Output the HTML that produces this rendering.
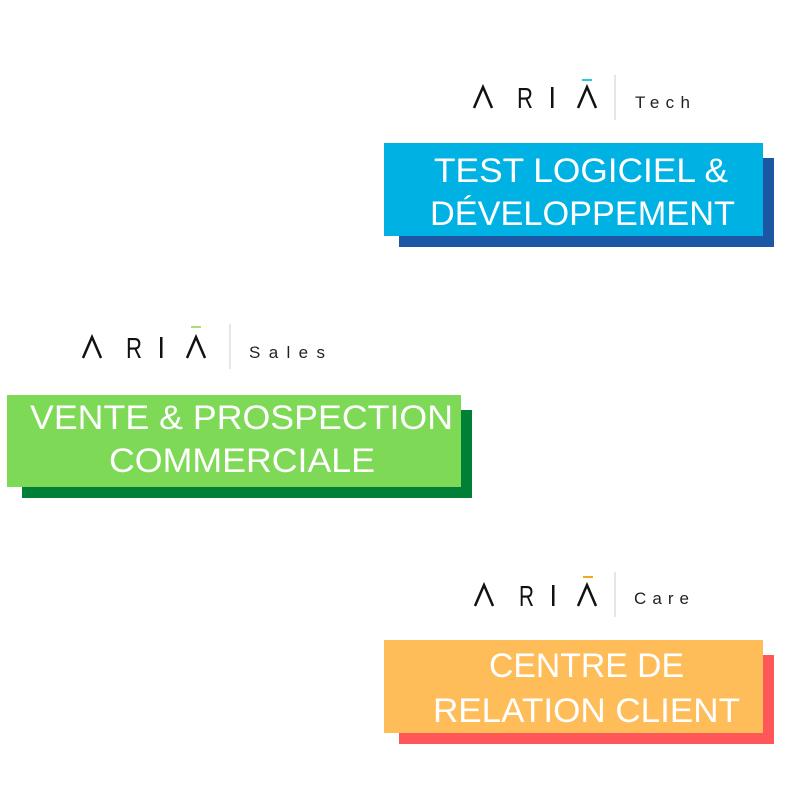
<!DOCTYPE html>
<html><head><meta charset="utf-8"><style>
html,body{margin:0;padding:0;background:#fff;width:800px;height:800px;overflow:hidden}
svg{display:block}
.t{font-family:"Liberation Sans",sans-serif;fill:#fff;font-size:34px}
.l{font-family:"Liberation Sans",sans-serif;fill:#111;font-size:29px}
.s{font-family:"Liberation Sans",sans-serif;fill:#222;font-size:17px}
</style></head><body>
<svg width="800" height="800" viewBox="0 0 800 800" xmlns="http://www.w3.org/2000/svg">
<rect width="800" height="800" fill="#fff"/>
<!-- Tech -->
<g>
<path d="M474 108 L483 87 L492 108" fill="none" stroke="#111" stroke-width="2.5"/>
<text class="l" x="517" y="108" textLength="16" lengthAdjust="spacingAndGlyphs">R</text>
<rect x="551" y="87" width="2.5" height="21" fill="#111"/>
<path d="M578 108 L587 87 L596 108" fill="none" stroke="#111" stroke-width="2.5"/>
<rect x="582" y="79" width="10" height="2" fill="#29c6e6"/>
<rect x="614.5" y="75" width="1" height="45" fill="#ccc"/>
<text class="s" x="635" y="108" textLength="55" lengthAdjust="spacing">Tech</text>
<rect x="399" y="158" width="375" height="89" fill="#1c57a5"/>
<rect x="384" y="143" width="379" height="93" fill="#00b2e3"/>
<text class="t" x="434" y="182" textLength="294" lengthAdjust="spacingAndGlyphs">TEST LOGICIEL &amp;</text>
<text class="t" x="430" y="225" textLength="305" lengthAdjust="spacingAndGlyphs">DÉVELOPPEMENT</text>
</g>
<!-- Sales -->
<g>
<path d="M83 358 L92 337 L101 358" fill="none" stroke="#111" stroke-width="2.5"/>
<text class="l" x="126" y="358" textLength="16" lengthAdjust="spacingAndGlyphs">R</text>
<rect x="160" y="337" width="2.5" height="21" fill="#111"/>
<path d="M187 358 L196 337 L205 358" fill="none" stroke="#111" stroke-width="2.5"/>
<rect x="191" y="326" width="10" height="2" fill="#a6e07a"/>
<rect x="229.5" y="324" width="1" height="45" fill="#ccc"/>
<text class="s" x="249" y="358" textLength="76" lengthAdjust="spacing">Sales</text>
<rect x="22" y="410" width="450" height="88" fill="#008037"/>
<rect x="7" y="395" width="454" height="92" fill="#7ed957"/>
<text class="t" x="30" y="429" textLength="423" lengthAdjust="spacingAndGlyphs">VENTE &amp; PROSPECTION</text>
<text class="t" x="109" y="472" textLength="266" lengthAdjust="spacingAndGlyphs">COMMERCIALE</text>
</g>
<!-- Care -->
<g>
<path d="M475 606 L484 585 L493 606" fill="none" stroke="#111" stroke-width="2.5"/>
<text class="l" x="519" y="606" textLength="15" lengthAdjust="spacingAndGlyphs">R</text>
<rect x="552" y="585" width="2.5" height="21" fill="#111"/>
<path d="M578 606 L587 585 L596 606" fill="none" stroke="#111" stroke-width="2.5"/>
<rect x="583" y="576" width="10" height="2" fill="#f5a623"/>
<rect x="614.5" y="572" width="1" height="45" fill="#ccc"/>
<text class="s" x="634" y="604" textLength="55" lengthAdjust="spacing">Care</text>
<rect x="399" y="655" width="375" height="89" fill="#ff5757"/>
<rect x="384" y="640" width="379" height="93" fill="#ffbd59"/>
<text class="t" x="489" y="677" textLength="195" lengthAdjust="spacingAndGlyphs">CENTRE DE</text>
<text class="t" x="433" y="722" textLength="307" lengthAdjust="spacingAndGlyphs">RELATION CLIENT</text>
</g>
</svg>
</body></html>
